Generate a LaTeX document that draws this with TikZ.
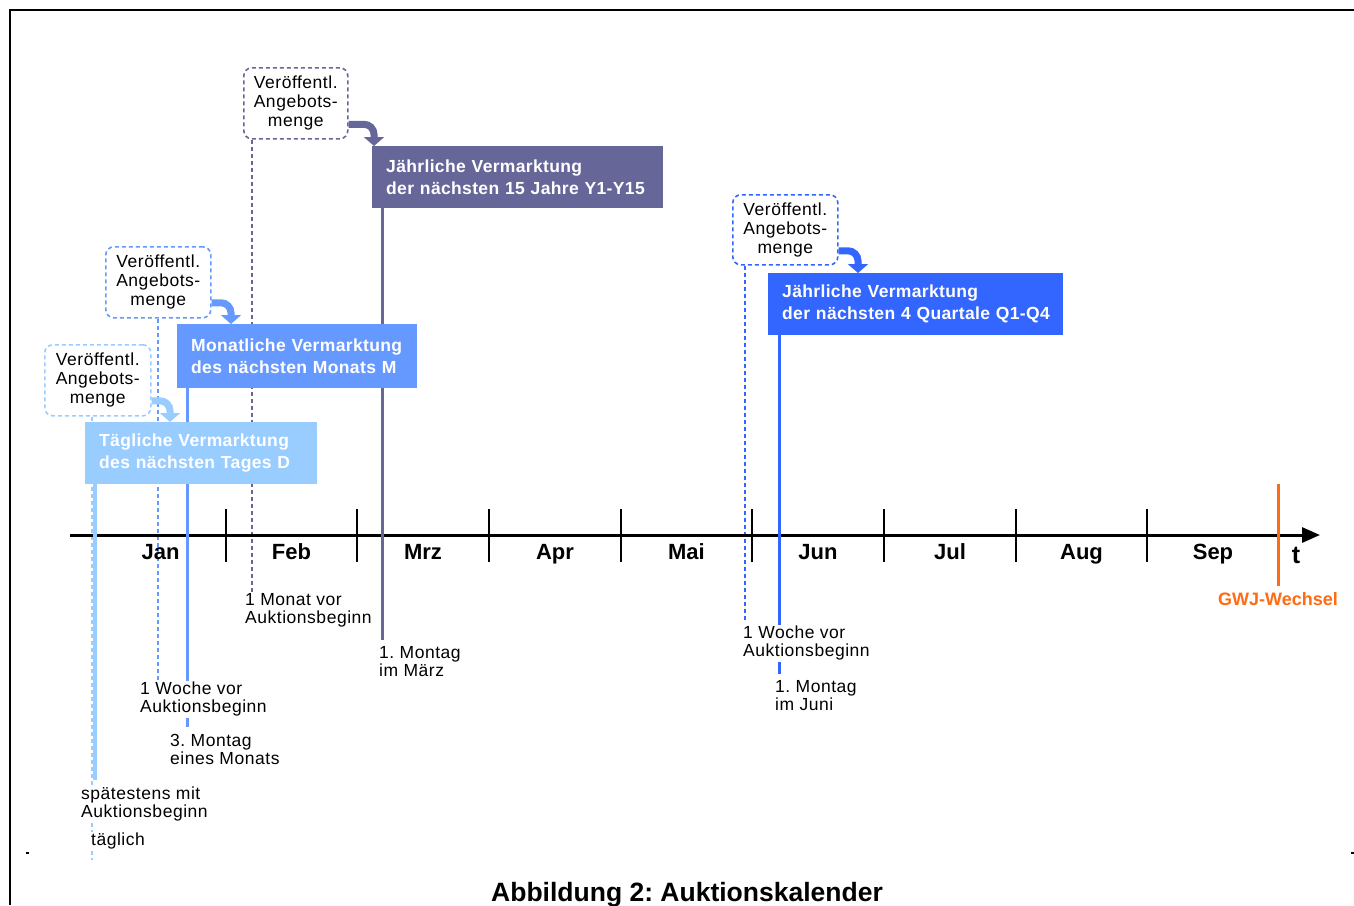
\documentclass[tikz,border=0pt]{standalone}
\usepackage{fontspec}
\setmainfont{Liberation Sans}
\newfontfamily\labfont[LetterSpace=3]{Liberation Sans}
\newfontfamily\boxfont[LetterSpace=2]{Liberation Sans}
\usetikzlibrary{arrows.meta}
\definecolor{cP}{HTML}{666699}
\definecolor{cM}{HTML}{6699FF}
\definecolor{cD}{HTML}{99CCFF}
\definecolor{cQ}{HTML}{3366FF}
\definecolor{cO}{HTML}{FF6A13}
\frenchspacing
\begin{document}
\frenchspacing
\begin{tikzpicture}[x=1pt,y=-1pt,
  mbox/.style={anchor=north west, fill=#1, inner xsep=14pt, inner ysep=0pt, text=white, align=left,
    font=\boxfont\fontsize{17.5}{22}\selectfont\bfseries},
  callout/.style={draw=#1, dash pattern=on 4pt off 3pt, line width=1.6pt, rounded corners=8pt,
    anchor=north west, minimum width=105pt, minimum height=71pt, inner sep=0pt, align=center,
    font=\labfont\fontsize{17.5}{19}\selectfont},
  lab/.style={anchor=north west, fill=white, inner sep=1pt, align=left, font=\labfont\fontsize{17.5}{18}\selectfont},
  dline/.style={draw=#1, line width=1.8pt, dash pattern=on 4pt off 3pt},
  sline/.style={draw=#1, line width=3pt},
  barrow/.style={draw=#1, line width=7pt, rounded corners=10pt, -{Triangle[length=9pt,width=20pt]}},
  month/.style={anchor=base, font=\fontsize{22}{25}\selectfont\bfseries},
]
\useasboundingbox (0,0) rectangle (1354,905);
% frame
\draw[line width=2.5pt] (1354,10) -- (10,10) -- (10,905);
\fill (26,852) rectangle (29,854);
\fill (1351,852) rectangle (1354,854);

% ---------- vertical line end coordinates
\coordinate (ePd) at (252,592);
\coordinate (ePs) at (382,640);
\coordinate (eMd) at (158,680);
\coordinate (eMs) at (187,727);
\coordinate (eDd) at (92,860);
\coordinate (eDs) at (95,780);
\coordinate (eQd) at (745,620);
\coordinate (eQs) at (779,674);

% ---------- callouts
\node[callout=cP, minimum width=104pt] (cPn) at (243,67) {Veröffentl.\\Angebots-\\menge};
\node[callout=cM] (cMn) at (105,246) {Veröffentl.\\Angebots-\\menge};
\node[callout=cD, minimum width=106pt] (cDn) at (44,344) {Veröffentl.\\Angebots-\\menge};
\node[callout=cQ, minimum width=105pt, minimum height=70pt] (cQn) at (732,194) {Veröffentl.\\Angebots-\\menge};

% ---------- dashed vertical lines
\path[dline=cP] (cPn.south west -| ePd) -- (ePd);
\path[dline=cM] (cMn.south west -| eMd) -- (eMd);
\path[dline=cD] (cDn.south west -| eDd) -- (eDd);
\path[dline=cQ] (cQn.south west -| eQd) -- (eQd);

% ---------- axis
\coordinate (axL) at (70,535);
\coordinate (axR) at (1320,535);
\draw[line width=3pt, -{Triangle[length=18pt,width=15pt]}] (axL) -- (axR);
\foreach \tx in {95,226,357,489,621,752,884,1016,1147}
  \draw[line width=2.5pt] (\tx,509) -- (\tx,562);
\node[month] (mJan) at (160.5,559) {Jan};
\node[month] (mFeb) at (291.5,559) {Feb};
\node[month] (mMrz) at (423,559) {Mrz};
\node[month] (mApr) at (555,559) {Apr};
\node[month] (mMai) at (686.5,559) {Mai};
\node[month] (mJun) at (818,559) {Jun};
\node[month] (mJul) at (950,559) {Jul};
\node[month] (mAug) at (1081.5,559) {Aug};
\node[month] (mSep) at (1213,559) {Sep};
\node[anchor=base, font=\fontsize{25}{28}\selectfont\bfseries] (tt) at (1296,563) {t};

% ---------- solid lines (from the boxes, drawn before the boxes)
\path[sline=cP] (382,200) coordinate (bPtop) -- (ePs);
\path[sline=cM] (187,380) coordinate (bMtop) -- (eMs);
\path[sline=cD, line width=4pt] (95,470) coordinate (bDtop) -- (eDs);
\path[sline=cQ] (779,320) coordinate (bQtop) -- (eQs);

% ---------- labels (white background, over the lines)
\node[lab] (lPd) at (244,592) {1 Monat vor\\Auktionsbeginn};
\node[lab] (lPs) at (378,645) {1. Montag\\im März};
\node[lab] (lMd) at (139,681) {1 Woche vor\\Auktionsbeginn};
\node[lab] (lMs) at (169,733) {3. Montag\\eines Monats};
\node[lab] (lQd) at (742,625) {1 Woche vor\\Auktionsbeginn};
\node[lab] (lQs) at (774,679) {1. Montag\\im Juni};
\node[lab] (lDs) at (80,786) {spätestens mit\\Auktionsbeginn};
\node[lab] (lDd) at (90,832) {täglich};

% GWJ
\coordinate (gT) at (1278,484);
\coordinate (gB) at (1278,586);
\draw[cO, line width=3pt] (gT) -- (gB);
\node[anchor=base, text=cO, font=\fontsize{18}{20}\selectfont\bfseries] (gwj) at (1278,605) {GWJ-Wechsel};

% ---------- boxes
\node[mbox=cP, text width=263pt, minimum height=62pt] (bP) at (372,146)
  {\mbox{Jährliche Vermarktung}\\\mbox{der nächsten 15 Jahre Y1-Y15}};
\node[mbox=cM, text width=212pt, minimum height=64pt] (bM) at (177,324)
  {\mbox{Monatliche Vermarktung}\\\mbox{des nächsten Monats M}};
\node[mbox=cD, text width=204pt, minimum height=62pt] (bD) at (85,422)
  {\mbox{Tägliche Vermarktung}\\\mbox{des nächsten Tages D}};
\node[mbox=cQ, text width=267pt, minimum height=62pt] (bQ) at (768,273)
  {\mbox{Jährliche Vermarktung}\\\mbox{der nächsten 4 Quartale Q1-Q4}};

% ---------- bent arrows
\path[barrow=cP] ([yshift=-21pt]cPn.east) -| ([xshift=2pt]bP.north west);
\path[barrow=cM] ([yshift=-20.5pt]cMn.east) -| ([xshift=54pt]bM.north west);
\path[barrow=cD] ([yshift=-20.5pt]cDn.east) -| ([xshift=85pt]bD.north west);
\path[barrow=cQ] ([yshift=-21pt]cQn.east) -| ([xshift=90pt]bQ.north west);

% caption
\node[anchor=base, font=\fontsize{26.5}{30}\selectfont\bfseries] (cap) at (687,901) {Abbildung 2: Auktionskalender};
\end{tikzpicture}
\end{document}
